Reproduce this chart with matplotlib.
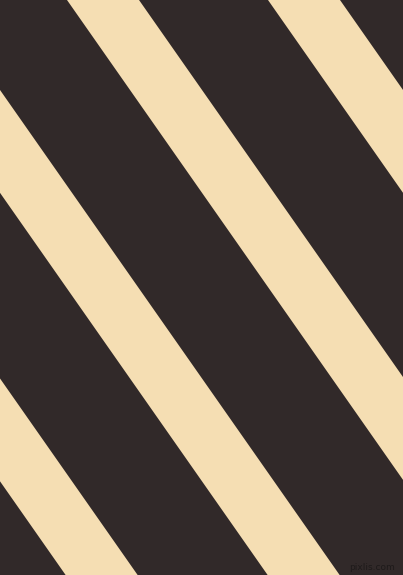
import numpy as np
import matplotlib
matplotlib.use('Agg')
import matplotlib.pyplot as plt

### canvas size in pixels
W, H = 403, 575

### stripe data: left edge of each cream stripe along the top edge (px)
stripe_x0 = [-337, -135, 67, 268]
stripe_width = 72          # horizontal width of a cream stripe (px)
stripe_angle = 55.0        # degrees from horizontal

### colours
bg_color = '#312929'
stripe_color = '#f5deb3'

fig = plt.figure(figsize=(W / 100, H / 100), dpi=100)
ax = fig.add_axes([0, 0, 1, 1])
ax.set_xlim(0, W)
ax.set_ylim(H, 0)
ax.axis('off')
fig.patch.set_facecolor(bg_color)
ax.set_facecolor(bg_color)

run = H / np.tan(np.radians(stripe_angle))
for x0 in stripe_x0:
    xs = [x0, x0 + stripe_width, x0 + stripe_width + run, x0 + run]
    ys = [0, 0, H, H]
    ax.fill(xs, ys, color=stripe_color, lw=0, antialiased=True)

### watermark
ax.text(372, 567, 'pixlis.com', ha='center', va='center', fontsize=6.5,
        color='#1e1a1a', fontfamily='DejaVu Sans')

fig.savefig('out.png', dpi=100, facecolor=bg_color)
plt.close(fig)
